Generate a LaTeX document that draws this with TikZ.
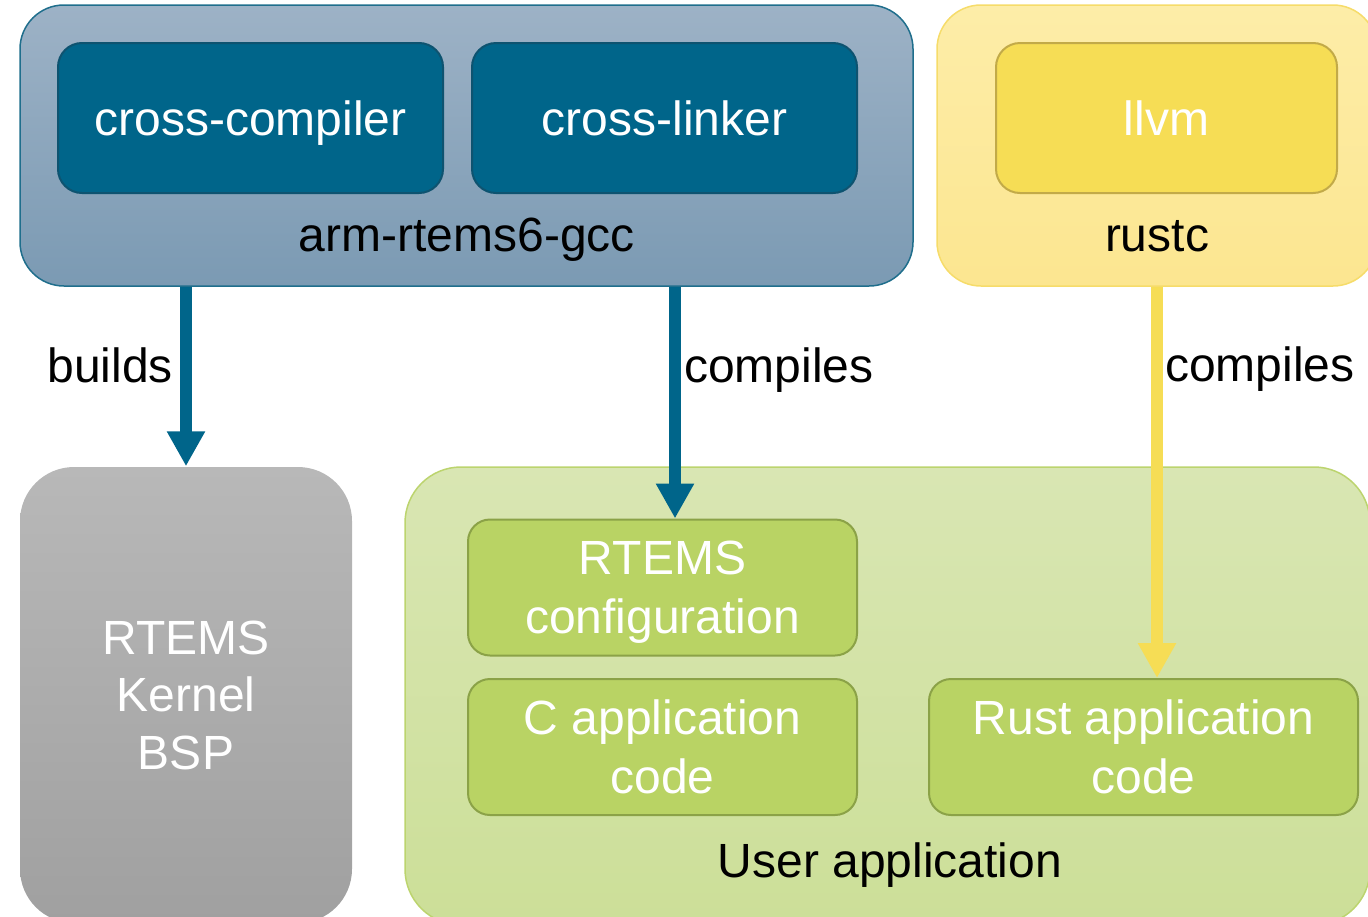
\documentclass[tikz,border=0pt]{standalone}
\usepackage{fontspec}
\setmainfont{Liberation Sans}
\usetikzlibrary{arrows.meta}

\definecolor{gcctop}{HTML}{9DB2C6}
\definecolor{gccbot}{HTML}{7B9AB3}
\definecolor{gccline}{HTML}{1F6E8C}
\definecolor{toolblue}{HTML}{00658A}
\definecolor{toolline}{HTML}{0E5370}
\definecolor{rusttop}{HTML}{FDEDA8}
\definecolor{rustbot}{HTML}{FCE690}
\definecolor{rustline}{HTML}{F6DC6A}
\definecolor{llvmfill}{HTML}{F6DD55}
\definecolor{llvmline}{HTML}{C2AA48}
\definecolor{kerneltop}{HTML}{B8B8B8}
\definecolor{kernelbot}{HTML}{A0A0A0}
\definecolor{apptop}{HTML}{D9E6B3}
\definecolor{appbot}{HTML}{CCDF98}
\definecolor{appline}{HTML}{BCD46E}
\definecolor{partfill}{HTML}{B9D364}
\definecolor{partline}{HTML}{8BA247}

\tikzset{
  container/.style={rounded corners=22pt, line width=0.75pt},
  tool/.style={rounded corners=12pt, line width=1pt, text=white,
    text depth=0pt, minimum width=192.5pt, minimum height=75pt},
  part/.style={rounded corners=11pt, line width=1pt, fill=partfill,
    draw=partline, text=white, align=center, text depth=0pt,
    minimum height=68pt},
  flow/.style={line width=6pt, -{Triangle[width=18pt, length=17.5pt]}},
  flowlabel/.style={inner sep=0pt, text=black}
}

\begin{document}
\begin{tikzpicture}[x=0.5pt, y=-0.5pt, font=\fontsize{24}{29.5}\selectfont]
  \useasboundingbox (0,0) rectangle (1368,916);

  % arm-rtems6-gcc toolchain
  \node (gcc) [container, top color=gcctop, bottom color=gccbot, draw=gccline,
    minimum width=446.5pt, minimum height=140.5pt] at (466.5,145.5) {};
  \node (compiler) [tool, fill=toolblue, draw=toolline] at (250.5,118) {cross-compiler};
  \node (linker) [tool, fill=toolblue, draw=toolline] at (664.5,118) {cross-linker};
  \node (gcclabel) [anchor=base] at (467,251) {arm-rtems6-gcc};

  % rustc
  \node (rustc) [container, top color=rusttop, bottom color=rustbot, draw=rustline,
    minimum width=220pt, minimum height=140.5pt] at (1157,145.5) {};
  \node (llvm) [tool, fill=llvmfill, draw=llvmline, minimum width=170.5pt] at (1166.5,118) {llvm};
  \node (rustclabel) [anchor=base] at (1157,251) {rustc};

  % kernel and BSP
  \node (kernel) [container, rounded corners=27pt, top color=kerneltop, bottom color=kernelbot,
    text=white, align=center, text depth=0pt, font=\fontsize{24}{28.75}\selectfont,
    minimum width=166pt, minimum height=228pt] at (186,695)
    {RTEMS\\Kernel\\BSP};

  % user application
  \node (app) [container, rounded corners=28pt, top color=apptop, bottom color=appbot, draw=appline,
    minimum width=482.5pt, minimum height=229pt] at (887.5,696) {};
  \node (config) [part, minimum width=194.5pt] at (662.5,587.5) {RTEMS\\configuration};
  \node (capp) [part, minimum width=194.5pt] at (662.5,747) {C application\\code};
  \node (rustapp) [part, minimum width=214.5pt] at (1143.5,747) {Rust application\\code};
  \node (applabel) [anchor=base] at (890,877) {User application};

  % arrows
  \draw[flow, toolblue] (gcc.south -| kernel.north) to
    node[flowlabel, pos=0.44, left=3.5pt] {builds}
    (kernel.north);
  \draw[flow, toolblue] ([xshift=6.25pt]gcc.south -| config.north) to
    node[flowlabel, pos=0.36, right=1.5pt] {compiles}
    ([xshift=6.25pt]config.north);
  \draw[flow, llvmfill] (rustc.south) to
    node[flowlabel, pos=0.21, right=1pt] {compiles}
    (rustc.south |- rustapp.north);

\end{tikzpicture}
\end{document}
